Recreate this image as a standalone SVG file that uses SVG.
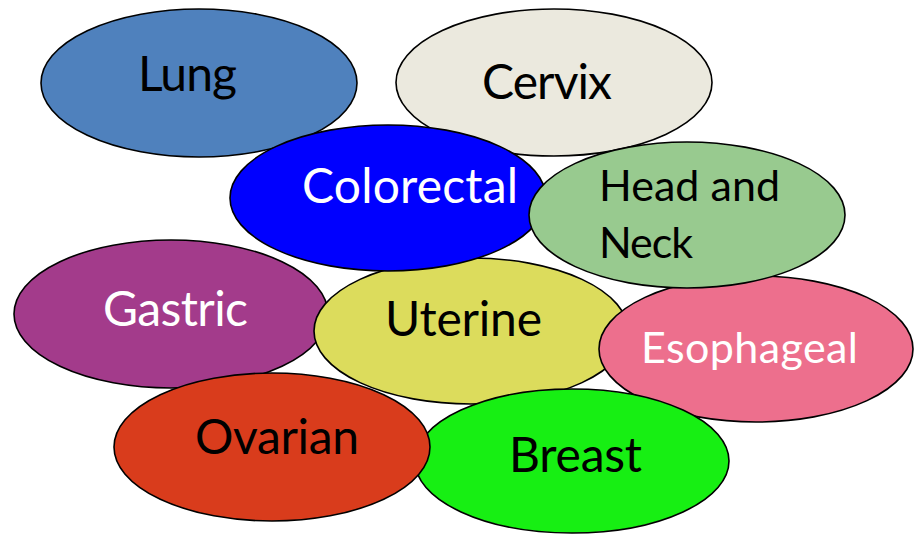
<svg xmlns="http://www.w3.org/2000/svg" width="914" height="535" viewBox="0 0 914 535">
<style>
.n ellipse{stroke:#000;stroke-width:1.6}
.t{font-family:Lato,"Liberation Sans",sans-serif;font-size:48px;text-anchor:middle}
.s{font-size:43px}
.w{fill:#fff}
.b{fill:#000}
</style>
<rect width="914" height="535" fill="#fff"/>
<g id="lung" class="n"><ellipse cx="199" cy="83" rx="158" ry="74" fill="#4f81bd"/><text class="t b" x="187.5" y="91" textLength="99">Lung</text></g>
<g id="cervix" class="n"><ellipse cx="554" cy="82.5" rx="158" ry="73.5" fill="#ebe9de"/><text class="t b" x="547" y="99" textLength="130">Cervix</text></g>
<g id="gastric" class="n"><ellipse cx="171" cy="314" rx="157" ry="74" fill="#a33b8b"/><text class="t w" x="175.5" y="325.7" textLength="145">Gastric</text></g>
<g id="uterine" class="n"><ellipse cx="471" cy="331" rx="157" ry="73" fill="#dcdc5c"/><text class="t b" x="463.5" y="336" textLength="157">Uterine</text></g>
<g id="colorectal" class="n"><ellipse cx="388" cy="198" rx="158" ry="73" fill="#0000ff"/><text class="t w" x="410" y="202.7" textLength="216">Colorectal</text></g>
<g id="esophageal" class="n"><ellipse cx="756" cy="349" rx="157" ry="73" fill="#ed6f8d"/><text class="t s w" x="749.5" y="363.3" textLength="217">Esophageal</text></g>
<g id="head-and-neck" class="n"><ellipse cx="687" cy="215" rx="158" ry="73" fill="#98ca8f"/><text class="t s b" style="text-anchor:start" x="599" y="200.7" textLength="181">Head and</text><text class="t s b" style="text-anchor:start" x="599" y="257.7" textLength="94">Neck</text></g>
<g id="breast" class="n"><ellipse cx="572" cy="461" rx="157" ry="72" fill="#17ef13"/><text class="t b" x="575.5" y="471.7" textLength="133">Breast</text></g>
<g id="ovarian" class="n"><ellipse cx="272" cy="447" rx="158" ry="74" fill="#d93c1c"/><text class="t b" x="277" y="454" textLength="164">Ovarian</text></g>
<g id="connectors"/>
</svg>
